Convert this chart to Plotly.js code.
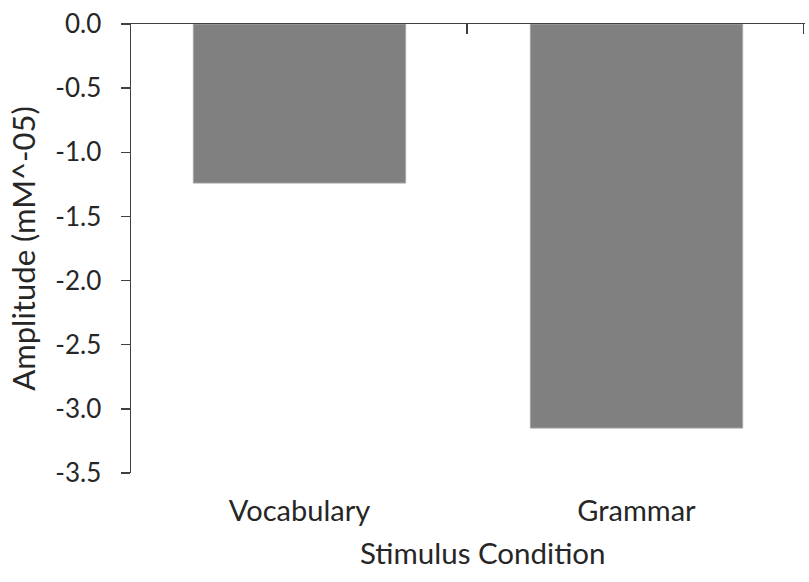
<!DOCTYPE html>
<html>
<head>
<meta charset="utf-8">
<script src="https://cdn.plot.ly/plotly-3.0.1.min.js"></script>
<style>html,body{margin:0;padding:0;background:#fff;}#chart{width:809px;height:582px;}</style>
</head>
<body>
<div id="chart"></div>
<script>
const categories = ["Vocabulary", "Grammar"];
const amplitudes = [-1.24, -3.15];
const yTickVals = [0, -0.5, -1.0, -1.5, -2.0, -2.5, -3.0, -3.5];
const yTickText = ["0.0", "-0.5", "-1.0", "-1.5", "-2.0", "-2.5", "-3.0", "-3.5"];
const boundaryTicks = [0.5, 1.5];
const xTitle = "Stimulus Condition";
const yTitle = "Amplitude (mM^-05)";

const font = "Lato, 'Open Sans', 'Liberation Sans', sans-serif";
const textColor = "#262626";
const axisColor = "#404040";

const data = [{
  type: "bar",
  x: categories,
  y: amplitudes,
  marker: {color: "#808080", line: {color: "#a6a6a6", width: 1}},
  hoverinfo: "skip"
}, {
  type: "scatter",
  x: boundaryTicks,
  y: [0, 0],
  xaxis: "x2", yaxis: "y",
  mode: "markers",
  marker: {opacity: 0},
  hoverinfo: "skip",
  showlegend: false
}];

const layout = {
  width: 809, height: 582,
  margin: {l: 131, r: 3.5, t: 24, b: 109},
  paper_bgcolor: "#fff", plot_bgcolor: "#fff",
  font: {family: font, color: textColor, size: 18},
  showlegend: false,
  bargap: 0.37,
  xaxis: {
    type: "category",
    range: [-0.5, 1.5],
    showline: false, showgrid: false, zeroline: false,
    ticks: "outside", ticklen: 12, tickcolor: "rgba(0,0,0,0)",
    tickfont: {size: 29, family: font, color: textColor}
  },
  xaxis2: {
    overlaying: "x", side: "top", type: "linear",
    range: [-0.5, 1.505],
    showline: true, linecolor: axisColor, linewidth: 1.5,
    showgrid: false, zeroline: false,
    tickvals: boundaryTicks, ticks: "inside", ticklen: 10, tickwidth: 1.5, tickcolor: axisColor,
    showticklabels: false
  },
  yaxis: {
    range: [-3.5, 0],
    showline: true, linecolor: axisColor, linewidth: 1.5,
    showgrid: false, zeroline: false,
    tickvals: yTickVals, ticktext: yTickText,
    ticks: "outside", ticklen: 9, tickwidth: 1.5, tickcolor: axisColor,
    ticklabelstandoff: 14,
    tickfont: {size: 26, family: font, color: textColor},
    title: {text: yTitle, font: {size: 31, family: font, color: textColor}, standoff: 10}
  },
  annotations: [{
    text: xTitle,
    xref: "paper", yref: "paper",
    x: 0.522, y: -0.178,
    xanchor: "center", yanchor: "middle",
    showarrow: false,
    font: {size: 29.5, family: font, color: textColor}
  }]
};

Plotly.newPlot("chart", data, layout, {displayModeBar: false, staticPlot: true});
</script>
</body>
</html>
